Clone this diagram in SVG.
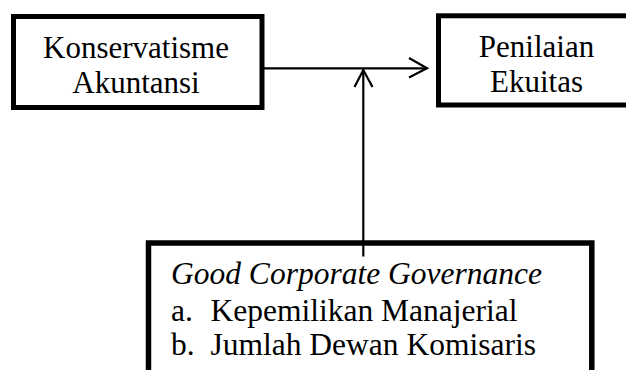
<svg xmlns="http://www.w3.org/2000/svg" width="626" height="370" viewBox="0 0 626 370">
<style>
.box{fill:#fff;stroke:#000;stroke-width:5}
.ln{fill:none;stroke:#000;stroke-width:2.2}
</style>
<rect width="626" height="370" fill="#fff"/>
<g id="connectors">
<line class="ln" x1="262" y1="68.3" x2="427" y2="68.3"/>
<polyline class="ln" points="409,58 427,68.3 409,77.5"/>
<line class="ln" x1="363.3" y1="256.5" x2="363.3" y2="70"/>
<polyline class="ln" points="354.5,87 363.3,70 372.5,87"/>
</g>
<g id="node-konservatisme">
<rect class="box" x="13.5" y="16.5" width="248.5" height="91"/>
<text font-family="Liberation Serif" font-size="31" text-anchor="middle" x="136" y="58.3">Konservatisme</text>
<text font-family="Liberation Serif" font-size="31" text-anchor="middle" x="136" y="93.3">Akuntansi</text>
</g>
<g id="node-penilaian">
<rect class="box" x="438.5" y="15.8" width="196" height="89.2"/>
<text font-family="Liberation Serif" font-size="31" text-anchor="middle" x="536.5" y="56.5">Penilaian</text>
<text font-family="Liberation Serif" font-size="31" text-anchor="middle" x="536.5" y="91.8">Ekuitas</text>
</g>
<g id="node-gcg">
<rect class="box" x="148.5" y="243" width="443.3" height="140" style="stroke-width:5.5"/>
<line class="ln" x1="363.3" y1="240" x2="363.3" y2="256.5"/>
<text font-family="Liberation Serif" font-size="31.5" font-style="italic" x="171" y="284">Good Corporate Governance</text>
<text font-family="Liberation Serif" font-size="31.5" y="320.5"><tspan x="171">a.</tspan><tspan x="210.5">Kepemilikan Manajerial</tspan></text>
<text font-family="Liberation Serif" font-size="31.5" y="355"><tspan x="171">b.</tspan><tspan x="210.5">Jumlah Dewan Komisaris</tspan></text>
</g>
</svg>
